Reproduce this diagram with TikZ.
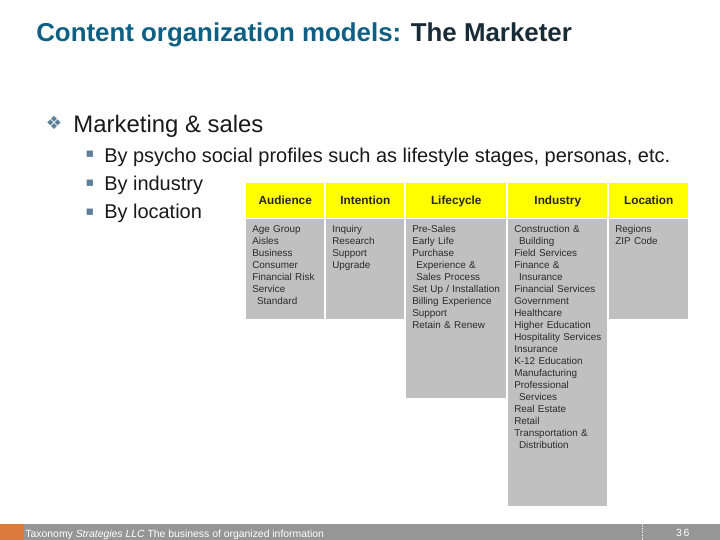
\documentclass[tikz,border=0pt]{standalone}
\usepackage{fontspec}
\setmainfont{Liberation Sans}
\newfontfamily\symfont{DejaVu Sans}
\definecolor{titleblue}{HTML}{0F5F82}
\definecolor{titledark}{HTML}{1A2B38}
\definecolor{bulletblue}{HTML}{5F7F99}
\definecolor{cellgray}{HTML}{C0C0C0}
\definecolor{cellyellow}{HTML}{FFFF00}
\definecolor{footgray}{HTML}{969696}
\definecolor{footorange}{HTML}{DE7A3C}
\definecolor{celltext}{HTML}{2A2A2A}
\tikzset{
  headcell/.style={fill=cellyellow, anchor=north west, inner xsep=0pt, inner ysep=0pt, text height=5.4mm, text depth=3.35mm, font=\fontsize{8.4}{9}\selectfont\bfseries, text=black!85},
  bodycell/.style={fill=cellgray, anchor=north west, inner xsep=0.15cm, inner ysep=0.15cm, align=left, font=\fontsize{7.05}{8.53}\selectfont, text=celltext},
  toptext/.style={anchor=base west, inner sep=0pt, text=black!90},
  lvlone/.style={toptext, font=\fontsize{17}{19}\selectfont},
  lvltwo/.style={toptext, font=\fontsize{14.2}{16}\selectfont},
  subbullet/.style={anchor=center, inner sep=0pt, text=bulletblue, font=\symfont\fontsize{9}{10}\selectfont},
}
\begin{document}
\begin{tikzpicture}
    \useasboundingbox (0,0) rectangle (18,-13.5);

    % Title
    \node[toptext, font=\fontsize{18.4}{22}\selectfont\bfseries] (title) at (0.9,-1.03) {\textcolor{titleblue}{Content organization models:} \textcolor{titledark}{The Marketer}};

    % Bullets
    \node[anchor=center, inner sep=0pt, text=bulletblue, font=\symfont\fontsize{13}{14}\selectfont] (mainbullet) at (1.35,-3.07) {❖};
    \node[lvlone] (marketing) at (1.83,-3.3) {Marketing \& sales};
    \node[subbullet] (dotpsycho) at (2.25,-3.85) {▪};
    \node[lvltwo] (psycho) at (2.6,-4.05) {By psycho social profiles such as lifestyle stages, personas, etc.};
    \node[subbullet] (dotindustry) at (2.25,-4.58) {▪};
    \node[lvltwo] (byindustry) at (2.6,-4.77) {By industry};
    \node[subbullet] (dotlocation) at (2.25,-5.3) {▪};
    \node[lvltwo] (bylocation) at (2.6,-5.47) {By location};

    % Header row
    \node[headcell, minimum width=1.95cm] (audience) at (6.15,-4.575) {Audience};
    \node[headcell, minimum width=1.95cm] (intention) at (8.15,-4.575) {Intention};
    \node[headcell, minimum width=2.5cm] (lifecycle) at (10.15,-4.575) {Lifecycle};
    \node[headcell, minimum width=2.475cm] (industry) at (12.7,-4.575) {Industry};
    \node[headcell, minimum width=1.975cm] (location) at (15.225,-4.575) {Location};

    % Body row
    \node[bodycell, text width=1.65cm, text depth=2.025cm] (audiencebody) at (6.15,-5.475) {Age Group\\Aisles\\Business\\Consumer\\Financial Risk\\Service\\\hspace*{0.12cm}Standard};
    \node[bodycell, text width=1.65cm, text depth=2.025cm] (intentionbody) at (8.15,-5.475) {Inquiry\\Research\\Support\\Upgrade};
    \node[bodycell, text width=2.2cm, text depth=4cm] (lifecyclebody) at (10.15,-5.475) {Pre-Sales\\Early Life\\Purchase\\\hspace*{0.1cm}Experience \&\\\hspace*{0.1cm}Sales Process\\Set Up / Installation\\Billing Experience\\Support\\Retain \& Renew};
    \node[bodycell, text width=2.175cm, text depth=6.7cm] (industrybody) at (12.7,-5.475) {Construction \&\\\hspace*{0.12cm}Building\\Field Services\\Finance \&\\\hspace*{0.12cm}Insurance\\Financial Services\\Government\\Healthcare\\Higher Education\\\mbox{Hospitality Services}\\Insurance\\K-12 Education\\Manufacturing\\Professional\\\hspace*{0.12cm}Services\\Real Estate\\Retail\\Transportation \&\\\hspace*{0.12cm}Distribution};
    \node[bodycell, text width=1.675cm, text depth=2.025cm] (locationbody) at (15.225,-5.475) {Regions\\ZIP Code};

    % Footer
    \fill[footgray] (0,-13.1) rectangle (18,-13.5);
    \fill[footorange] (0,-13.1) rectangle (0.6,-13.5);
    \draw[white, densely dotted, line width=0.5pt] (16.05,-13.1) -- (16.05,-13.5);
    \node[anchor=base west, inner sep=0pt, text=white, font=\fontsize{7.4}{8}\selectfont] (footer) at (0.63,-13.43) {Taxonomy \textit{Strategies LLC} The business of organized information};
    \node[anchor=base, inner sep=0pt, text=white, font=\fontsize{7.4}{8}\selectfont] (pagenum) at (17.07,-13.4) {3\,6};
\end{tikzpicture}
\end{document}
